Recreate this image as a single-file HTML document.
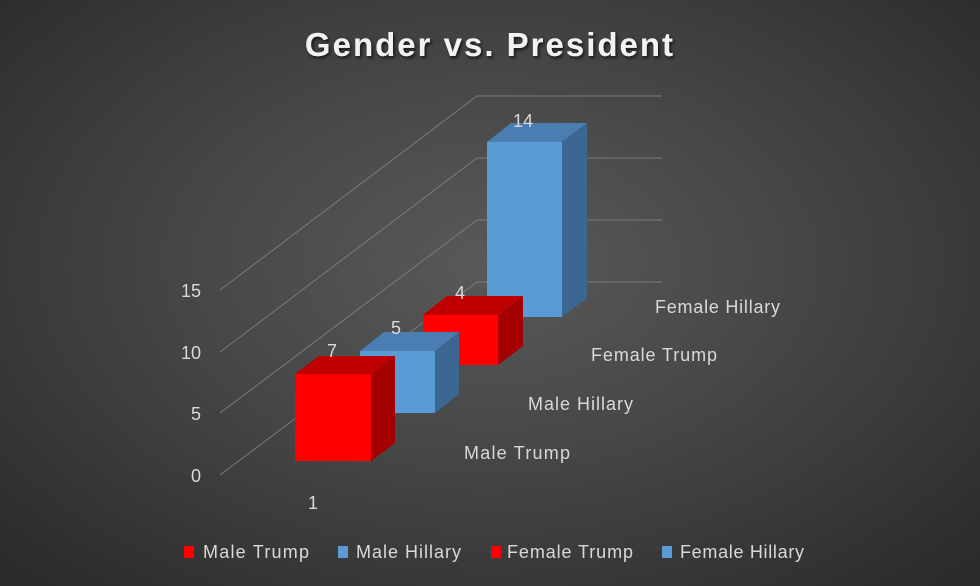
<!DOCTYPE html>
<html><head><meta charset="utf-8"><style>
html,body{margin:0;padding:0;width:980px;height:586px;overflow:hidden;}
body{background:radial-gradient(ellipse 70% 75% at 50% 45%,#595959 0%,#464646 45%,#2a2a2a 100%);}
svg{position:absolute;left:0;top:0;}
text{font-family:"Liberation Sans",sans-serif;fill:#d9d9d9;}
</style></head><body>
<svg width="980" height="586" viewBox="0 0 980 586">
<defs><filter id="sh"><feDropShadow dx="1.5" dy="2" stdDeviation="1.5" flood-color="#000" flood-opacity="0.7"/></filter></defs>
<text x="490" y="56" text-anchor="middle" font-size="33" font-weight="bold" style="fill:#f2f2f2;letter-spacing:2px" filter="url(#sh)">Gender vs. President</text>
<g stroke="#7a7a7a" stroke-width="1" fill="none">
<polyline points="220,290 477,96 662,96"/>
<polyline points="220,352 477,158 662,158"/>
<polyline points="220,413 477,220 662,220"/>
<polyline points="220,475 477,282 662,282"/>
</g>
<g font-size="18">
<text x="201" y="297" text-anchor="end">15</text>
<text x="201" y="359" text-anchor="end">10</text>
<text x="201" y="420" text-anchor="end">5</text>
<text x="201" y="482" text-anchor="end">0</text>
<text x="313" y="509" text-anchor="middle">1</text>
</g>
<polygon points="487,142 511,123 587,123 562,142" fill="#4a7db2"/>
<polygon points="562,142 587,123 587,298 562,317" fill="#3c6792"/>
<rect x="487" y="142" width="75" height="175" fill="#5b9bd5"/>
<polygon points="423,315 447,296 523,296 498,315" fill="#c00000"/>
<polygon points="498,315 523,296 523,346 498,365" fill="#a50000"/>
<rect x="423" y="315" width="75" height="50" fill="#ff0000"/>
<polygon points="360,351 384,332 459,332 435,351" fill="#4a7db2"/>
<polygon points="435,351 459,332 459,394 435,413" fill="#3c6792"/>
<rect x="360" y="351" width="75" height="62" fill="#5b9bd5"/>
<polygon points="295,374 319,356 395,356 371,374" fill="#c00000"/>
<polygon points="371,374 395,356 395,443 371,461" fill="#a50000"/>
<rect x="295" y="374" width="76" height="87" fill="#ff0000"/>
<g font-size="18">
<text x="523" y="127" text-anchor="middle">14</text>
<text x="460" y="299" text-anchor="middle">4</text>
<text x="396" y="334" text-anchor="middle">5</text>
<text x="332" y="357" text-anchor="middle">7</text>
<text x="464" y="459" textLength="106">Male Trump</text>
<text x="528" y="410" textLength="105">Male Hillary</text>
<text x="591" y="361" textLength="126">Female Trump</text>
<text x="655" y="313" textLength="125">Female Hillary</text>
</g>
<g font-size="18">
<rect x="184" y="546" width="10" height="12" fill="#ff0000"/><text x="203" y="558" textLength="106">Male Trump</text>
<rect x="338" y="546" width="10" height="12" fill="#5b9bd5"/><text x="356" y="558" textLength="105">Male Hillary</text>
<rect x="491" y="546" width="10" height="12" fill="#ff0000"/><text x="507" y="558" textLength="126">Female Trump</text>
<rect x="662" y="546" width="10" height="12" fill="#5b9bd5"/><text x="680" y="558" textLength="124">Female Hillary</text>
</g>
</svg>
</body></html>
